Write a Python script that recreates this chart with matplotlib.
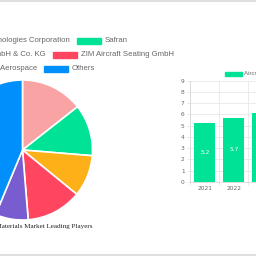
import matplotlib
matplotlib.use('Agg')
import matplotlib.pyplot as plt
from matplotlib.patches import Rectangle

# --- data ---
players = ['Raytheon Technologies Corporation', 'Safran',
           'Recaro Aircraft Seating GmbH & Co. KG', 'ZIM Aircraft Seating GmbH',
           'Collins Aerospace', 'Others']
shares = [14.4, 11.9, 9.6, 12.8, 7.6, 43.7]
pie_colors = ['#F9A3A4', '#00E396', '#FEB019', '#FF4560', '#775DD0', '#008FFB']

years = ['2021', '2022', '2023']
market_size = [5.2, 5.7, 6.1]
bar_color = '#00E396'

pie_title = 'Aircraft Seating Materials Market Leading Players'
bar_legend = 'Aircraft Seating Materials Market Size (USD Billion)'

W = H = 256
fig = plt.figure(figsize=(2.56, 2.56), dpi=100)

# full-figure axes in pixel units (y measured from bottom)
base = fig.add_axes([0, 0, 1, 1])

# --- pie ---
base.pie(shares, colors=pie_colors, startangle=90, counterclock=False,
         center=(22.5, H - 150), radius=70,
         wedgeprops=dict(edgecolor='white', linewidth=1.2), frame=True)
base.set_xlim(0, W)
base.set_ylim(0, H)
base.axis('off')

# page frame lines
base.plot([0, W], [H - 0.8, H - 0.8], color='#d9d9d9', lw=1.2)
base.plot([0, W], [0.8, 0.8], color='#d9d9d9', lw=1.2)

base.text(93, H - 226, pie_title, ha='right', va='center',
          fontsize=5.1, family='Liberation Serif', color='#222222')

# legend (3 rows, 2 items per row), left column is cut off by the page edge
rows_y = [41, 55, 69]
right_box_x = [77, 53, 44]
for i, name in enumerate(players):
    r, c = divmod(i, 2)
    y = H - rows_y[r]
    if c == 1:
        bx = right_box_x[r]
        base.add_patch(Rectangle((bx, y - 3.2), 24, 6.4, color=pie_colors[i]))
        base.text(bx + 28, y, name, ha='left', va='center',
                  fontsize=5.6, color='#666666', family='Liberation Sans')
    else:
        base.text(right_box_x[r] - 7, y, name, ha='right', va='center',
                  fontsize=5.6, color='#666666', family='Liberation Sans')

# --- bar chart ---
cat_w = 29.0
x0, y_zero, y_top = 190.3, 182.0, 80.7
bx = fig.add_axes([x0 / W, (H - y_zero) / H, len(years) * cat_w / W,
                   (y_zero - y_top) / H])
xs = range(len(years))
bars = bx.bar(xs, market_size, width=0.72, color=bar_color, zorder=2)
for b, v in zip(bars, market_size):
    bx.text(b.get_x() + b.get_width() / 2, v / 2, f'{v}', ha='center',
            va='center', color='white', fontsize=4.2)
bx.set_xlim(-0.5, len(years) - 0.5)
bx.set_ylim(0, 9)
bx.set_yticks(range(10))
bx.set_xticks(list(xs))
bx.set_xticklabels(years)
bx.set_xticks([i + 0.5 for i in range(-1, len(years))], minor=True)
bx.grid(True, axis='y', color='#e8e8e8', lw=0.6, zorder=0)
bx.grid(True, axis='x', which='minor', color='#e8e8e8', lw=0.6, zorder=0)
bx.tick_params(axis='both', which='both', labelsize=4.2, colors='#666666',
               length=2.5, width=0.5, pad=1.5)
bx.tick_params(axis='both', which='both', color='#e0e0e0')
bx.tick_params(axis='x', which='major', length=0, pad=3)
for s in ['top', 'right']:
    bx.spines[s].set_visible(False)
for s in ['left', 'bottom']:
    bx.spines[s].set_color('#d8d8d8')
    bx.spines[s].set_linewidth(0.6)

# bar legend
base.add_patch(Rectangle((225, H - 76), 16.5, 4.5, color=bar_color))
base.text(244, H - 74, bar_legend, ha='left', va='center',
          fontsize=4.4, color='#666666', family='Liberation Sans')

fig.savefig('out.png', dpi=100)
